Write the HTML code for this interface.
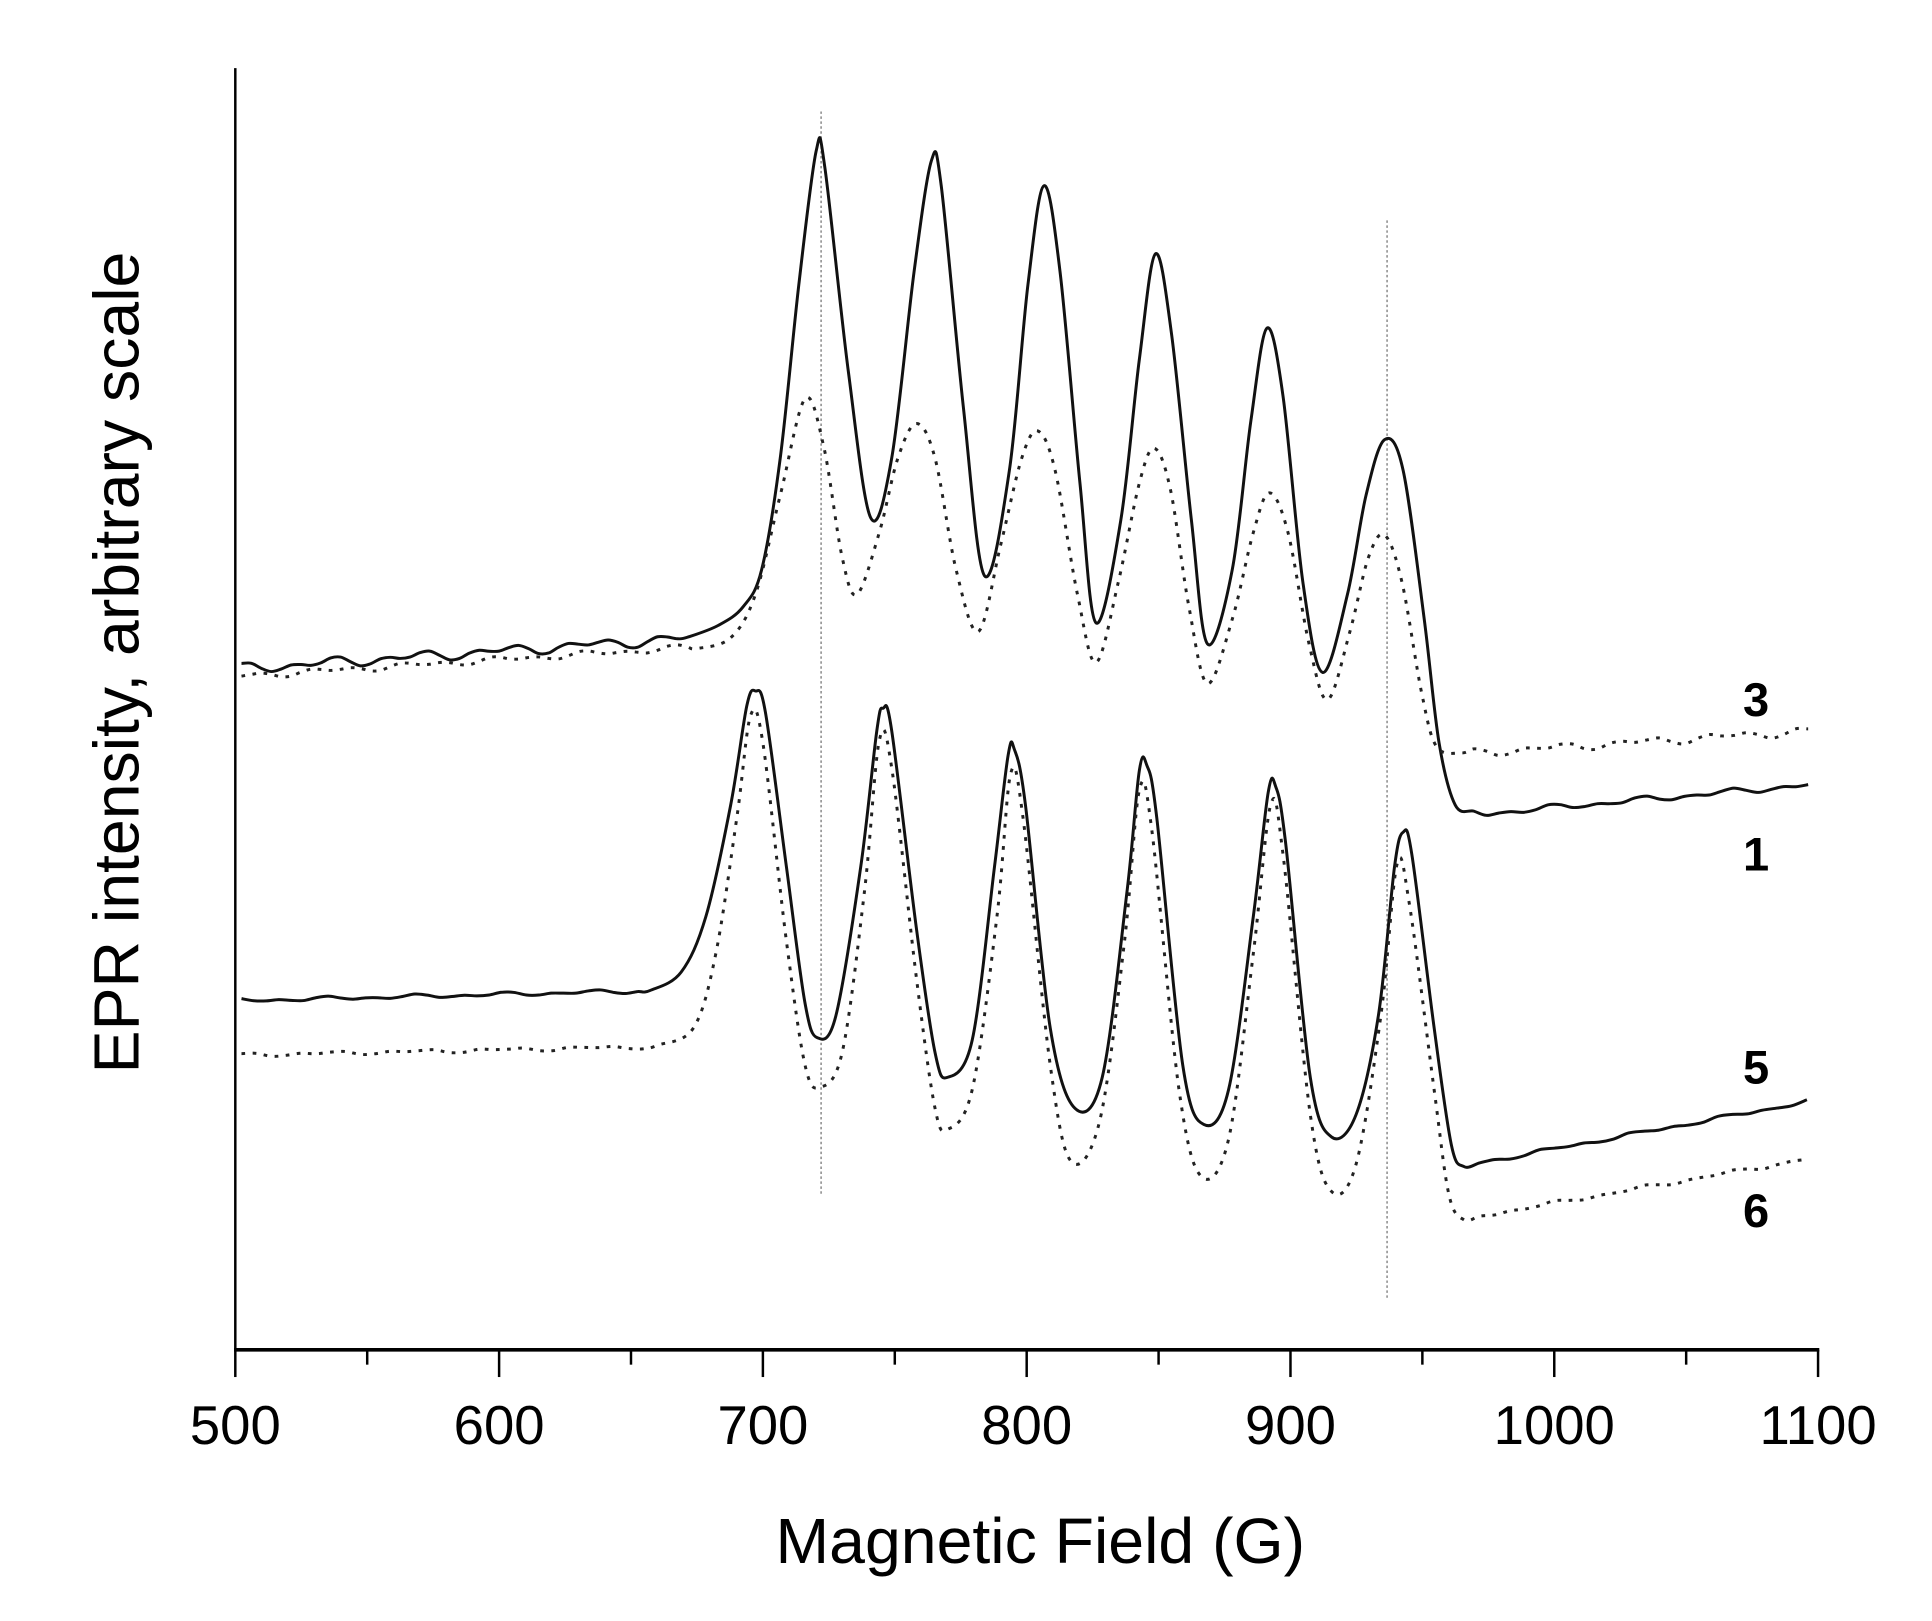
<!DOCTYPE html>
<html><head><meta charset="utf-8"><style>
html,body{margin:0;padding:0;background:#fff;}
svg{display:block;}
text{font-family:"Liberation Sans",Arial,sans-serif;fill:#000;}
</style></head><body>
<svg id="s" width="1932" height="1621" viewBox="0 0 1560 1309" preserveAspectRatio="none" xmlns="http://www.w3.org/2000/svg">
<line x1="190" y1="55" x2="190" y2="1090" stroke="#000" stroke-width="2"/>
<line x1="189" y1="1090" x2="1469" y2="1090" stroke="#000" stroke-width="3"/>
<g id="ticks" stroke="#000" stroke-width="2"></g>
<g font-size="44" text-anchor="middle">
<text x="190" y="1166">500</text><text x="403" y="1166">600</text><text x="616" y="1166">700</text>
<text x="829" y="1166">800</text><text x="1042" y="1166">900</text><text x="1255" y="1166">1000</text><text x="1468" y="1166">1100</text>
</g>
<text x="840" y="1262" font-size="52" text-anchor="middle">Magnetic Field (G)</text>
<text transform="translate(112,535) rotate(-90)" font-size="52" text-anchor="middle">EPR intensity, arbitrary scale</text>
<line x1="663" y1="90" x2="663" y2="965" stroke="#888" stroke-width="1.2" stroke-dasharray="2,2"/>
<line x1="1120" y1="178" x2="1120" y2="1048" stroke="#888" stroke-width="1.2" stroke-dasharray="2,2"/>
<g id="curves" fill="none"></g>
<g font-size="38" font-weight="bold" text-anchor="middle">
<text x="1418" y="578">3</text><text x="1418" y="703">1</text><text x="1418" y="875">5</text><text x="1418" y="991">6</text>
</g>
</svg>
<script>
var t=document.getElementById('ticks'),h='';
for(var i=0;i<=12;i++){var x=190+i*106.5;h+='<line x1="'+x+'" y1="1090" x2="'+x+'" y2="'+(i%2?1102:1112)+'"/>';}
t.innerHTML=h;
function cr(p){var d='M'+p[0][0]+','+p[0][1];for(var i=0;i<p.length-1;i++){var p0=p[i-1]||p[i],p1=p[i],p2=p[i+1],p3=p[i+2]||p2;
d+=' C'+(p1[0]+(p2[0]-p0[0])/6).toFixed(1)+','+(p1[1]+(p2[1]-p0[1])/6).toFixed(1)+' '+(p2[0]-(p3[0]-p1[0])/6).toFixed(1)+','+(p2[1]-(p3[1]-p1[1])/6).toFixed(1)+' '+p2[0]+','+p2[1];}return d;}
function noisy(x0,y0,x1,y1,amp,step,seed){var a=[];for(var x=x0;x<x1;x+=step){var y=y0+(y1-y0)*(x-x0)/(x1-x0)+amp*Math.sin(x*0.13+seed)*Math.cos(x*0.041+seed);a.push([x,+y.toFixed(1)]);}return a;}
var c1=noisy(195,540,560,515,5,8,1).concat([[580,505],[600,490],[615,460],[630,370],[645,230],[659,122],[666,135],[685,300],[703,418],[720,370],[738,220],[752,130],[760,150],[778,330],[795,465],[815,380],[830,230],[843,150],[856,220],[872,390],[885,503],[905,420],[920,290],[933,205],[946,270],[962,420],[975,520],[995,460],[1010,340],[1023,265],[1036,320],[1052,470],[1068,543],[1088,480],[1103,400],[1118,355],[1133,380],[1150,500],[1162,600],[1175,650],[1190,655]]).concat(noisy(1200,657,1470,633,3,10,2));
var c2=noisy(195,546,570,522,3,8,3).concat([[590,515],[610,480],[630,400],[650,322],[665,360],[680,450],[692,480],[710,430],[725,370],[740,342],[755,370],[772,460],[790,510],[808,440],[825,370],[838,348],[852,380],[870,480],[885,535],[903,470],[920,390],[932,362],[945,395],[960,490],[975,552],[995,500],[1012,430],[1025,398],[1040,430],[1057,520],[1072,565],[1090,510],[1105,450],[1118,432],[1132,470],[1148,560],[1160,603],[1180,608]]).concat(noisy(1190,608,1465,590,4,10,4));
var c3=noisy(195,808,530,800,2,10,5).concat([[550,785],[570,740],[590,650],[603,570],[610,558],[618,575],[635,700],[650,810],[660,838],[675,820],[695,700],[708,590],[713,572],[720,590],[740,750],[755,850],[765,870],[785,840],[803,700],[814,610],[819,605],[828,650],[848,830],[868,895],[890,870],[910,720],[920,622],[926,618],[934,660],[955,860],[972,908],[992,880],[1012,740],[1024,640],[1030,635],[1038,680],[1058,870],[1075,918],[1095,900],[1113,820],[1126,700],[1133,672],[1140,690],[1158,830],[1172,925],[1182,942]]).concat(noisy(1195,939,1468,888,2,12,6));
var c4=noisy(195,852,540,845,2,12,7).concat([[560,830],[578,770],[595,660],[606,578],[616,600],[635,760],[650,860],[662,878],[680,850],[698,720],[710,598],[720,620],[740,790],[755,895],[765,912],[785,880],[805,740],[816,625],[826,660],[848,860],[865,938],[888,905],[908,760],[920,638],[930,670],[952,880],[970,950],[992,920],[1012,770],[1026,650],[1036,690],[1058,900],[1075,962],[1095,940],[1115,820],[1128,698],[1138,730],[1158,880],[1170,965],[1182,985]]).concat(noisy(1195,982,1465,935,2,12,8));
document.getElementById('curves').innerHTML=
'<path d="'+cr(c1)+'" stroke="#111" stroke-width="2.4"/>'+
'<path d="'+cr(c2)+'" stroke="#222" stroke-width="2.4" stroke-dasharray="3,6"/>'+
'<path d="'+cr(c3)+'" stroke="#111" stroke-width="2.4"/>'+
'<path d="'+cr(c4)+'" stroke="#222" stroke-width="2.4" stroke-dasharray="3,6"/>';
</script>
</body></html>
